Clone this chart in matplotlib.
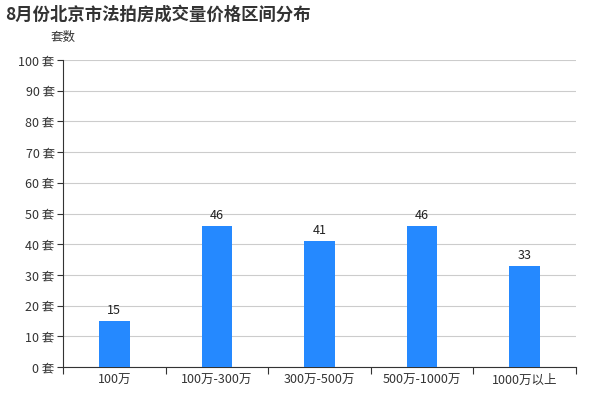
import matplotlib.pyplot as plt
import numpy as np

plt.rcParams['font.family'] = ['Noto Sans CJK SC', 'DejaVu Sans']

categories = ['100万', '100万-300万', '300万-500万', '500万-1000万', '1000万以上']
values = [15, 46, 41, 46, 33]
yticks = list(range(0, 101, 10))

fig = plt.figure(figsize=(6, 4), dpi=100)
ax = fig.add_axes([0.105, 0.0825, 0.855, 0.7675])

x = np.arange(len(categories))
ax.bar(x, values, width=0.3, color='#2589ff', zorder=3)
for xi, v in zip(x, values):
    ax.text(xi, v + 1.3, str(v), ha='center', va='bottom', fontsize=9, color='#222222')

ax.set_xlim(-0.5, len(categories) - 0.5)
ax.set_ylim(0, 100)
ax.set_yticks(yticks)
ax.set_yticklabels([f'{t} 套' for t in yticks], fontsize=9, color='#333333')
ax.set_xticks(np.arange(-0.5, len(categories), 1.0))
ax.set_xticklabels([])
ax.set_xticks(x, minor=True)
ax.set_xticklabels(categories, minor=True, fontsize=9, color='#333333')
ax.tick_params(axis='x', which='minor', length=0, pad=5)
ax.tick_params(axis='x', which='major', length=5, color='#333333')
ax.tick_params(axis='y', length=4, color='#333333', pad=2)

ax.grid(axis='y', color='#cccccc', linewidth=0.8, zorder=0)
for s in ['top', 'right']:
    ax.spines[s].set_visible(False)
for s in ['left', 'bottom']:
    ax.spines[s].set_color('#333333')

fig.text(0.085, 0.907, '套数', fontsize=9, color='#333333', va='center')
fig.text(0.008, 0.963, '8月份北京市法拍房成交量价格区间分布', fontsize=12.5,
         fontweight='bold', color='#333333', va='center')

fig.savefig('out.png', dpi=100)
